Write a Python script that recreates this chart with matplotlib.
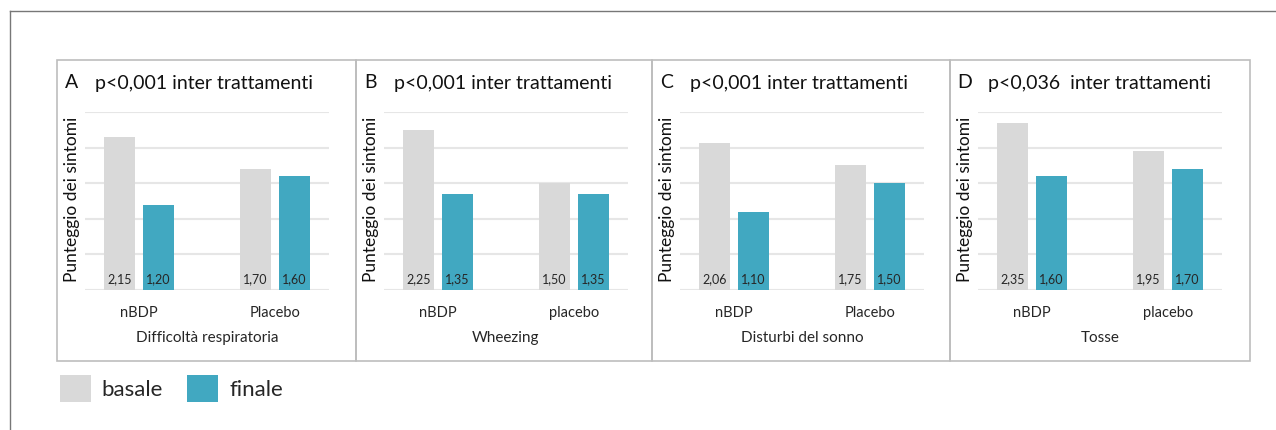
import matplotlib
matplotlib.use("Agg")
import matplotlib.pyplot as plt
from matplotlib.patches import Rectangle
from matplotlib.lines import Line2D

plt.rcParams["font.family"] = ["Lato", "DejaVu Sans"]

# ── Data ────────────────────────────────────────────────────────────────
panel_letters = ["A", "B", "C", "D"]
panel_titles = [
    "p<0,001 inter trattamenti",
    "p<0,001 inter trattamenti",
    "p<0,001 inter trattamenti",
    "p<0,036  inter trattamenti",
]
symptoms = ["Difficoltà respiratoria", "Wheezing", "Disturbi del sonno", "Tosse"]
groups = [
    ["nBDP", "Placebo"],
    ["nBDP", "placebo"],
    ["nBDP", "Placebo"],
    ["nBDP", "placebo"],
]
basale = [
    [2.15, 1.70],
    [2.25, 1.50],
    [2.06, 1.75],
    [2.35, 1.95],
]
finale = [
    [1.20, 1.60],
    [1.35, 1.35],
    [1.10, 1.50],
    [1.60, 1.70],
]
series_names = ["basale", "finale"]
yticks = [0, 0.5, 1.0, 1.5, 2.0, 2.5]

# ── Style ───────────────────────────────────────────────────────────────
C_BASALE = "#D9D9D9"
C_FINALE = "#41A8C1"
C_GRID = "#E6E6E6"
C_TEXT = "#262626"
C_PANEL = "#BDBDBD"
C_FRAME = "#777777"

W, H = 1276, 431
fig = plt.figure(figsize=(W / 100, H / 100), dpi=100)


def fx(px):
    return px / W


def fy(py):
    # pixel y measured from top
    return 1 - py / H


# outer frame (top and left only)
fig.add_artist(Line2D([fx(10), 1], [fy(12), fy(12)], color=C_FRAME, lw=1.0))
fig.add_artist(Line2D([fx(10), fx(10)], [fy(12), 0], color=C_FRAME, lw=1.0))

panel_left = [57, 356, 652, 950]
panel_right = [356, 652, 950, 1250]
panel_top, panel_bottom = 61, 362
plot_top, plot_base = 113, 291

for i in range(4):
    L, R = panel_left[i], panel_right[i]
    fig.add_artist(Rectangle((fx(L), fy(panel_bottom)), fx(R - L),
                             (panel_bottom - panel_top) / H,
                             fill=False, ec=C_PANEL, lw=1.2))

    ax = fig.add_axes([fx(L + 28), fy(plot_base), fx(244), (plot_base - plot_top) / H])
    x = [0, 1]
    off, bw = 0.143, 0.23
    xb = [v - off for v in x]
    xf = [v + off for v in x]
    ax.bar(xb, basale[i], width=bw, color=C_BASALE, zorder=2)
    ax.bar(xf, finale[i], width=bw, color=C_FINALE, zorder=2)

    for xs, vals in ((xb, basale[i]), (xf, finale[i])):
        for xv, v in zip(xs, vals):
            ax.annotate(f"{v:.2f}".replace(".", ","), xy=(xv, 0), xytext=(0, 4),
                        textcoords="offset points", ha="center", va="bottom",
                        fontsize=9, color=C_TEXT, zorder=3)

    ax.set_xlim(-0.4, 1.4)
    ax.set_ylim(0, 2.5)
    ax.set_yticks(yticks)
    ax.yaxis.grid(True, color=C_GRID, lw=1.5, zorder=0)
    ax.set_axisbelow(True)
    ax.tick_params(left=False, bottom=False, labelleft=False)
    ax.set_xticks(x)
    ax.set_xticklabels(groups[i], fontsize=10.5, color=C_TEXT)
    ax.tick_params(axis="x", pad=7.5)
    ax.set_xlabel(symptoms[i], fontsize=11, color=C_TEXT, labelpad=8)
    for s in ax.spines.values():
        s.set_visible(False)

    fig.text(fx(L + 15), fy(199), "Punteggio dei sintomi", rotation=90,
             ha="center", va="center", fontsize=12.5, color="#111111")
    fig.text(fx(L + 15), fy(82), panel_letters[i], ha="center", va="center",
             fontsize=14, color="#111111")
    fig.text(fx(L + 38), fy(84), panel_titles[i], ha="left", va="center",
             fontsize=14, color="#111111")

# legend
for (sq_x, txt_x), name, col in zip(((60, 101), (187, 229)), series_names,
                                    (C_BASALE, C_FINALE)):
    fig.add_artist(Rectangle((fx(sq_x), fy(403)), fx(31), 27 / H,
                             color=col, lw=0))
    fig.text(fx(txt_x), fy(390), name, ha="left", va="center",
             fontsize=16, color=C_TEXT)

fig.savefig("out.png", dpi=100)
